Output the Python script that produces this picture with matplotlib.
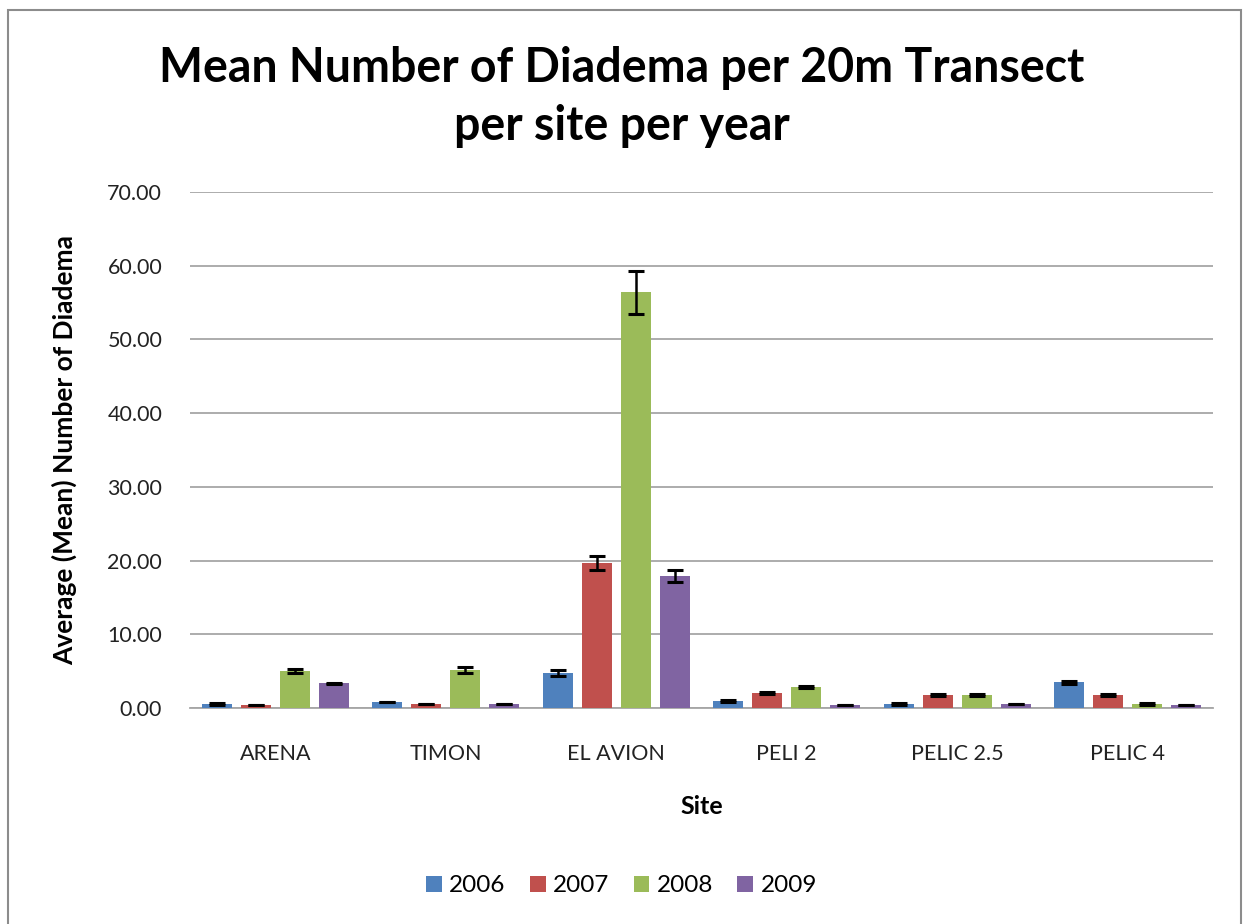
import numpy as np
import matplotlib
matplotlib.use("Agg")
import matplotlib.pyplot as plt
from matplotlib.patches import Rectangle

sites = ["ARENA", "TIMON", "EL AVION", "PELI 2", "PELIC 2.5", "PELIC 4"]
years = ["2006", "2007", "2008", "2009"]
colors = ["#4F81BD", "#C0504D", "#9BBB59", "#8064A2"]

mean_2006 = [0.55, 0.77, 4.80, 0.95, 0.58, 3.48]
mean_2007 = [0.40, 0.58, 19.70, 2.08, 1.76, 1.80]
mean_2008 = [5.00, 5.15, 56.40, 2.85, 1.80, 0.55]
mean_2009 = [3.35, 0.58, 17.90, 0.37, 0.58, 0.37]

err_2006 = [0.15, 0.0, 0.40, 0.20, 0.15, 0.20]
err_2007 = [0.0, 0.0, 0.95, 0.15, 0.15, 0.15]
err_2008 = [0.30, 0.35, 2.90, 0.20, 0.15, 0.15]
err_2009 = [0.10, 0.0, 0.80, 0.0, 0.0, 0.0]

means = [mean_2006, mean_2007, mean_2008, mean_2009]
errs = [err_2006, err_2007, err_2008, err_2009]

plt.rcParams["font.family"] = ["Lato", "DejaVu Sans"]

fig = plt.figure(figsize=(12.43, 9.24), dpi=100)
ax = fig.add_axes([190 / 1243, 1 - 708 / 924, (1213 - 190) / 1243, (708 - 192) / 924])

# outer chart frame
fig.patches.append(Rectangle((8 / 1243, -0.01), (1241 - 8) / 1243, 1 - 10 / 924 + 0.01,
                             transform=fig.transFigure, fill=False,
                             edgecolor="#8C8C8C", linewidth=1.5))

x = np.arange(len(sites))
step = 0.228
width = 0.176
for i, (yr, vals, er, c) in enumerate(zip(years, means, errs, colors)):
    pos = x + (i - 1.5) * step
    ax.bar(pos, vals, width=width, color=c, label=yr, zorder=3)
    ax.errorbar(pos, vals, yerr=er, fmt="none", ecolor="black",
                elinewidth=1.8, capsize=5.5, capthick=2.2, zorder=4)

ax.set_xlim(-0.5, len(sites) - 0.5)
ax.set_ylim(0, 70)
ax.set_yticks(np.arange(0, 71, 10))
ax.set_yticklabels([f"{v:.2f}" for v in np.arange(0, 71, 10)], fontsize=15.5, color="#222222")
ax.set_xticks(x)
ax.set_xticklabels(sites, fontsize=15.5, color="#222222")
ax.tick_params(axis="y", length=0, pad=20)
ax.tick_params(axis="x", length=0, pad=26)
ax.yaxis.grid(True, color="#A6A6A6", linewidth=1.3, zorder=0)
for s in ["left", "right", "top"]:
    ax.spines[s].set_visible(False)
ax.spines["bottom"].set_color("#A6A6A6")
ax.spines["bottom"].set_linewidth(1.3)

ax.set_xlabel("Site", fontsize=18, fontweight="bold", labelpad=22)
ax.set_ylabel("Average (Mean) Number of Diadema", fontsize=19, fontweight="bold", labelpad=22)

fig.text(0.5, 1 - 97 / 924, "Mean Number of Diadema per 20m Transect\nper site per year",
         ha="center", va="center", fontsize=33.5, fontweight="bold", linespacing=1.4)

fig.legend(loc="center", bbox_to_anchor=(0.5, 1 - 886 / 924), ncol=4, frameon=False,
           fontsize=17.5, handlelength=0.65, handleheight=0.65, columnspacing=1.0,
           handletextpad=0.3)

fig.savefig("out.png", dpi=100)
